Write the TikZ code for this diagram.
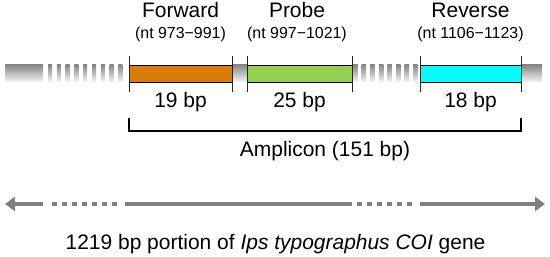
\documentclass[tikz,border=0pt]{standalone}
\usepackage{fontspec}
\setmainfont{Liberation Sans}
\usetikzlibrary{arrows.meta}
\definecolor{fwdorange}{RGB}{217,124,8}
\definecolor{probegreen}{RGB}{146,208,80}
\definecolor{revcyan}{RGB}{0,255,255}
\definecolor{barGrey}{RGB}{136,136,136}
\definecolor{arrowGrey}{RGB}{128,128,128}
\begin{document}
\begin{tikzpicture}[x=0.03cm,y=0.03cm,every node/.style={font=\fontsize{17.9}{21}\selectfont},
  primer/.style={draw,line width=0.8pt,inner sep=0pt,outer sep=0pt,minimum height=0.51cm},
  sub/.style={font=\fontsize{13.6}{16}\selectfont},
  bar/.style={top color=barGrey,bottom color=gray!8},
  tick/.style={line width=0.8pt,black!85},
  bracket/.style={line width=1.6pt},
  gene/.style={line width=3.4pt,arrowGrey},
  genedash/.style={gene,dash pattern=on 4.25pt off 4.25pt}]
\useasboundingbox (0,0) rectangle (550,257);
% COI fragment with primer and probe sites
\shade[bar] (5,175) rectangle (43,192);
\foreach \i in {0,...,8} \shade[bar] ({48+8.8*\i},175) rectangle +(4,17);
\shade[bar] (232,175) rectangle (247,192);
\foreach \i in {0,...,7} \shade[bar] ({353+8.6*\i},175) rectangle +(4.5,17);
\shade[bar] (521,175) rectangle (542,192);
\node[primer,fill=fwdorange,minimum width=3.09cm] (fwd) at (180.5,183.5) {};
\node[primer,fill=probegreen,minimum width=3.15cm] (probe) at (299.5,183.5) {};
\node[primer,fill=revcyan,minimum width=3.03cm] (rev) at (470.5,183.5) {};
\foreach \b in {fwd,probe,rev} {
  \draw[tick] ([yshift=0.26cm]\b.north west) -- ([yshift=-0.3cm]\b.south west);
  \draw[tick] ([yshift=0.26cm]\b.north east) -- ([yshift=-0.3cm]\b.south east);
}
\node[anchor=base] (fwdname) at (180.5,239) {Forward};
\node[sub,anchor=base] (fwdnt) at (180.5,218) {(nt 973−991)};
\node[anchor=base] (fwdlen) at (180.5,149) {19 bp};
\node[anchor=base] (probename) at (297,239) {Probe};
\node[sub,anchor=base] (probent) at (297,218) {(nt 997−1021)};
\node[anchor=base] (probelen) at (299.5,149) {25 bp};
\node[anchor=base] (revname) at (470.5,239) {Reverse};
\node[sub,anchor=base] (revnt) at (470.5,218) {(nt 1106−1123)};
\node[anchor=base] (revlen) at (470.5,149) {18 bp};
% amplicon bracket
\draw[bracket] (fwd.west |- 0,139) -- (fwd.west |- 0,126) -- (rev.east |- 0,126) -- (rev.east |- 0,139);
\node[anchor=base] (amp) at (325,100) {Amplicon (151 bp)};
% whole gene portion
\draw[gene,{Triangle[length=8.5pt,width=11.9pt]}-] (5,53) -- (43,53);
\draw[genedash] (52,53) -- (118,53);
\draw[gene] (125,53) -- (352,53);
\draw[genedash] (357,53) -- (414,53);
\draw[gene,-{Triangle[length=8.5pt,width=11.9pt]}] (420,53) -- (545,53);
\node[anchor=base] (genelabel) at (275.5,7) {1219 bp portion of \textit{Ips typographus COI} gene};
\end{tikzpicture}
\end{document}
